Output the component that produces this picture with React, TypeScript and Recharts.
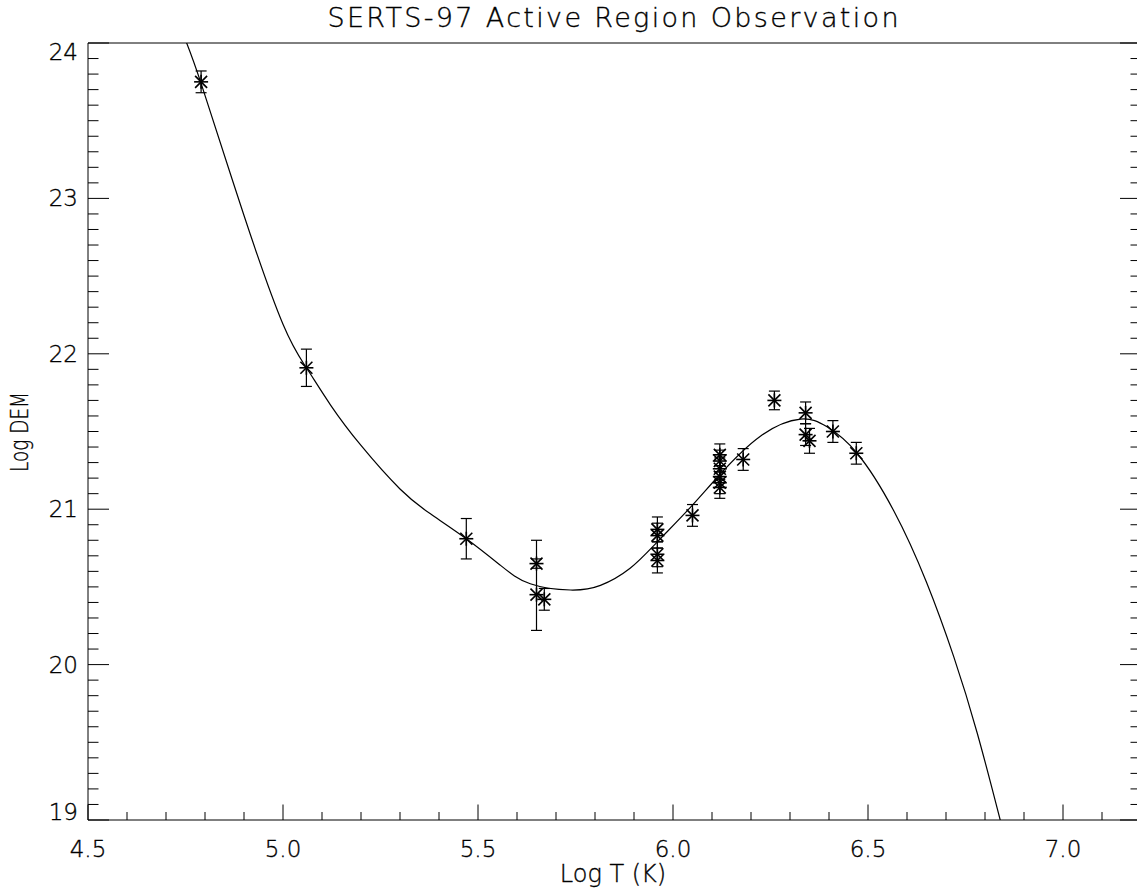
import React from 'react';
import { ComposedChart, Line, Scatter, ErrorBar, XAxis, YAxis } from 'recharts';

// fitted DEM curve
const CURVE_T = [
  4.74, 4.79, 4.9, 5.0, 5.06, 5.122, 5.2, 5.3, 5.378, 5.47, 5.557, 5.634,
  5.737, 5.814, 5.89, 5.96, 6.044, 6.119, 6.224, 6.327, 6.395, 6.472, 6.566, 6.65,
  6.72, 6.78, 6.839, 6.86,
];
const CURVE_DEM = [
  24.08, 23.74, 22.89, 22.19, 21.91, 21.67, 21.41, 21.13, 20.97, 20.81, 20.64, 20.52,
  20.48, 20.51, 20.62, 20.79, 21.01, 21.22, 21.47, 21.58, 21.53, 21.36, 20.99, 20.53,
  20.05, 19.56, 19.0, 18.79,
];

// observed lines
const POINT_T = [
  4.79, 5.06, 5.47, 5.65, 5.65, 5.67, 5.96, 5.96, 5.96, 5.96, 6.05, 6.12,
  6.12, 6.12, 6.12, 6.12, 6.12, 6.18, 6.26, 6.34, 6.34, 6.35, 6.41, 6.47,
];
const POINT_DEM = [
  23.75, 21.91, 20.81, 20.65, 20.45, 20.42, 20.87, 20.83, 20.71, 20.67, 20.96, 21.35,
  21.31, 21.26, 21.21, 21.17, 21.14, 21.32, 21.7, 21.62, 21.48, 21.44, 21.5, 21.36,
];
const ERR_LO = [
  0.07, 0.12, 0.13, 0.03, 0.23, 0.07, 0.08, 0.08, 0.08, 0.08, 0.07, 0.07,
  0.07, 0.07, 0.07, 0.07, 0.07, 0.07, 0.06, 0.07, 0.07, 0.08, 0.07, 0.07,
];
const ERR_HI = [
  0.07, 0.12, 0.13, 0.03, 0.35, 0.07, 0.08, 0.08, 0.08, 0.08, 0.07, 0.07,
  0.07, 0.07, 0.07, 0.07, 0.07, 0.07, 0.06, 0.07, 0.07, 0.08, 0.07, 0.07,
];

const X_MAJOR = [4.5, 5.0, 5.5, 6.0, 6.5, 7.0];
const X_MINOR = [
  4.5, 4.6, 4.7, 4.8, 4.9, 5.0, 5.1, 5.2, 5.3, 5.4, 5.5, 5.6, 5.7, 5.8,
  5.9, 6.0, 6.1, 6.2, 6.3, 6.4, 6.5, 6.6, 6.7, 6.8, 6.9, 7.0, 7.1, 7.2,
];
const Y_MAJOR = [19, 20, 21, 22, 23, 24];
const Y_MINOR = [
  19.0, 19.1, 19.2, 19.3, 19.4, 19.5, 19.6, 19.7, 19.8, 19.9,
  20.0, 20.1, 20.2, 20.3, 20.4, 20.5, 20.6, 20.7, 20.8, 20.9,
  21.0, 21.1, 21.2, 21.3, 21.4, 21.5, 21.6, 21.7, 21.8, 21.9,
  22.0, 22.1, 22.2, 22.3, 22.4, 22.5, 22.6, 22.7, 22.8, 22.9,
  23.0, 23.1, 23.2, 23.3, 23.4, 23.5, 23.6, 23.7, 23.8, 23.9, 24.0,
];

const X_DOMAIN = [4.5, 7.2];
const Y_DOMAIN = [19, 24];

const curveData = CURVE_T.map((t, i) => ({ t, dem: CURVE_DEM[i] }));
const pointData = POINT_T.map((t, i) => ({ t, dem: POINT_DEM[i], err: [ERR_LO[i], ERR_HI[i]] }));

const FONT = "'DejaVu Sans', sans-serif";
const INK = '#000';
const textStyle = { fill: INK, stroke: INK, strokeWidth: 0.35, fontFamily: FONT, fontWeight: 200 };

const Star = (props: any) => {
  const { cx, cy } = props;
  if (cx == null || cy == null) return null;
  const r = 7;
  const d = 6;
  return (
    <g stroke={INK} strokeWidth={1.6}>
      <line x1={cx - d} y1={cy - d} x2={cx + d} y2={cy + d} />
      <line x1={cx - d} y1={cy + d} x2={cx + d} y2={cy - d} />
      <line x1={cx} y1={cy - r} x2={cx} y2={cy + r} />
      <line x1={cx - r} y1={cy} x2={cx + r} y2={cy} />
    </g>
  );
};

// IDL-style ticks: point into the frame, labels only on the majors
const BottomTick = (props: any) => {
  const { x, y, payload } = props;
  const major = X_MAJOR.includes(payload.value);
  return (
    <g>
      <line x1={x} y1={y} x2={x} y2={y - (major ? 15.5 : 8)} stroke={INK} />
      {major && (
        <text x={x} y={y + 37} textAnchor="middle" fontSize={23} {...textStyle}>
          {payload.value.toFixed(1)}
        </text>
      )}
    </g>
  );
};

const TopTick = (props: any) => {
  const { x, y, payload } = props;
  const major = X_MAJOR.includes(payload.value);
  return <line x1={x} y1={y} x2={x} y2={y + (major ? 15.5 : 8)} stroke={INK} />;
};

const LeftTick = (props: any) => {
  const { x, y, payload } = props;
  const v = payload.value;
  const major = Y_MAJOR.includes(v);
  // end labels sit inside the frame
  const shift = v === 24 ? 9 : v === 19 ? -8 : 0;
  return (
    <g>
      <line x1={x} y1={y} x2={x + (major ? 21 : 10.5)} y2={y} stroke={INK} />
      {major && (
        <text x={x - 10} y={y + shift} textAnchor="end" dominantBaseline="central" fontSize={23} {...textStyle}>
          {v}
        </text>
      )}
    </g>
  );
};

const RightTick = (props: any) => {
  const { x, y, payload } = props;
  const major = Y_MAJOR.includes(payload.value);
  return <line x1={x} y1={y} x2={x - (major ? 21 : 10.5)} y2={y} stroke={INK} />;
};

export default function App() {
  return (
    <div style={{ position: 'fixed', left: 0, top: 0, width: 1137, height: 895, overflow: 'hidden', background: '#fff' }}>
      <ComposedChart width={1142} height={895} margin={{ top: 43, right: 1, bottom: 45, left: 0 }}>
        <XAxis xAxisId="x" dataKey="t" type="number" domain={X_DOMAIN} allowDataOverflow
          ticks={X_MINOR} interval={0} height={30} tickLine={false} tickSize={0} tickMargin={0}
          axisLine={{ stroke: INK }} tick={(p: any) => <BottomTick {...p} />} />
        <XAxis xAxisId="top" orientation="top" type="number" domain={X_DOMAIN} allowDataOverflow
          ticks={X_MINOR} interval={0} mirror height={1} tickLine={false} tickSize={0} tickMargin={0}
          axisLine={{ stroke: INK }} tick={(p: any) => <TopTick {...p} />} />

        <YAxis yAxisId="y" dataKey="dem" type="number" domain={Y_DOMAIN} allowDataOverflow
          ticks={Y_MINOR} interval={0} width={88} tickLine={false} tickSize={0} tickMargin={0}
          axisLine={{ stroke: INK }} tick={(p: any) => <LeftTick {...p} />} />
        <YAxis yAxisId="right" orientation="right" type="number" domain={Y_DOMAIN} allowDataOverflow
          ticks={Y_MINOR} interval={0} mirror width={1} tickLine={false} tickSize={0} tickMargin={0}
          axisLine={false} tick={(p: any) => <RightTick {...p} />} />

        <Line xAxisId="x" yAxisId="y" data={curveData} dataKey="dem" type="natural"
          stroke={INK} strokeWidth={1.2} dot={false} activeDot={false} isAnimationActive={false} />
        <Scatter xAxisId="x" yAxisId="y" data={pointData} dataKey="dem" shape={Star} isAnimationActive={false}>
          <ErrorBar dataKey="err" direction="y" width={5.5} stroke={INK} strokeWidth={1.2} isAnimationActive={false} />
        </Scatter>
      </ComposedChart>

      <svg width={1137} height={895} style={{ position: 'absolute', left: 0, top: 0, pointerEvents: 'none' }}>
        <text x={613} y={27} textAnchor="middle" fontSize={27} textLength={571} lengthAdjust="spacing" {...textStyle}>
          SERTS-97 Active Region Observation
        </text>
        <text x={613} y={882} textAnchor="middle" fontSize={24} {...textStyle}>
          Log T (K)
        </text>
        <text x={28} y={432} textAnchor="middle" fontSize={24} textLength={80} lengthAdjust="spacingAndGlyphs"
          transform="rotate(-90 28 432)" {...textStyle}>
          Log DEM
        </text>
      </svg>
    </div>
  );
}
